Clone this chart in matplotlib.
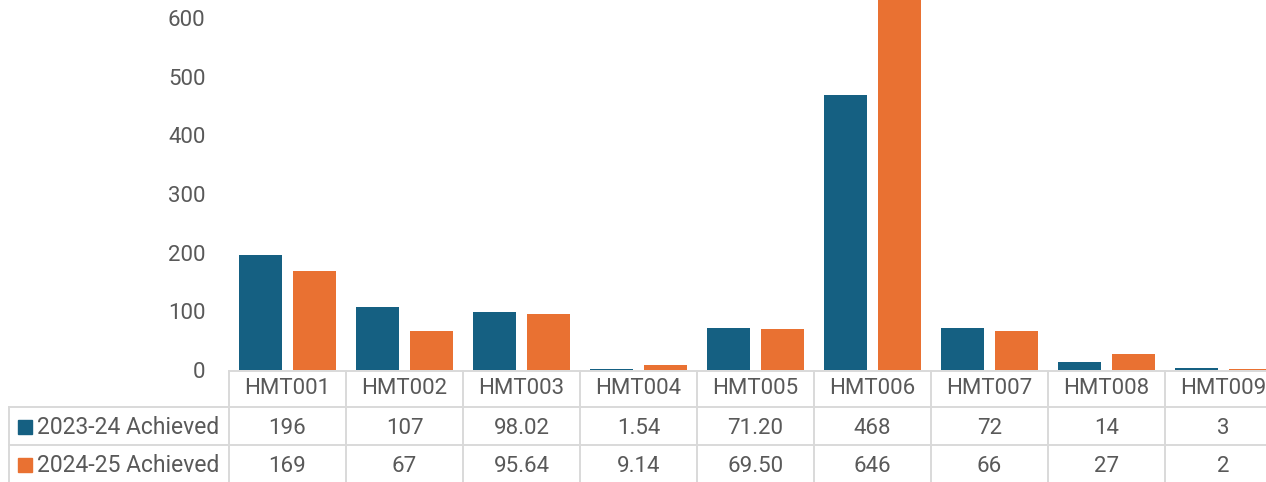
import matplotlib.pyplot as plt
from matplotlib.patches import Rectangle

plt.rcParams['font.family'] = ['Roboto', 'DejaVu Sans']

categories = ["HMT001", "HMT002", "HMT003", "HMT004", "HMT005",
              "HMT006", "HMT007", "HMT008", "HMT009"]
series_names = ["2023-24 Achieved", "2024-25 Achieved"]
# values as shown in the data table (strings keep the source formatting)
achieved_2324 = ["196", "107", "98.02", "1.54", "71.20", "468", "72", "14", "3"]
achieved_2425 = ["169", "67", "95.64", "9.14", "69.50", "646", "66", "27", "2"]
y_ticks = [0, 100, 200, 300, 400, 500, 600]

colors = ["#156082", "#E97132"]
text_color = "#595959"
grid_color = "#D9D9D9"
fs = 16

W, H = 1266, 482
fig = plt.figure(figsize=(W / 100, H / 100), dpi=100)

# pixel layout of the reference
plot_left, plot_right = 229, 1282
zero_y = 370
axis_y = 371
px_per_unit = (370 - 18) / 600.0

ax = fig.add_axes([plot_left / W, (H - zero_y) / H,
                   (plot_right - plot_left) / W, zero_y / H])
x = list(range(len(categories)))
bw = 0.37
off = 0.23
for k, vals in enumerate([achieved_2324, achieved_2425]):
    ax.bar([i + (k * 2 - 1) * off for i in x], [float(v) for v in vals],
           width=bw, color=colors[k], zorder=2)
ax.set_xlim(-0.5, len(categories) - 0.5)
ax.set_ylim(0, zero_y / px_per_unit)
ax.set_yticks(y_ticks)
ax.set_xticks([])
ax.tick_params(axis='y', length=0, pad=17, labelsize=fs, labelcolor=text_color)
for s in ax.spines.values():
    s.set_visible(False)

# data table below the axis
cell_w = (plot_right - plot_left) / len(categories)
label_w = (plot_left - 9) / cell_w
tax = fig.add_axes([9 / W, 0, (plot_right - 9) / W, (H - axis_y) / H])
tax.set_xlim(-0.5 - label_w, len(categories) - 0.5)
tax.set_ylim(H, axis_y)
tax.axis('off')

row_lines = [406.5, 444.5]
lw = 1.4
tax.plot([-0.5, len(categories) - 0.5], [axis_y, axis_y], color=grid_color, lw=lw, clip_on=False)
for i in range(len(categories) + 1):
    tax.plot([i - 0.5, i - 0.5], [axis_y, H], color=grid_color, lw=lw, clip_on=False)
for yl in row_lines:
    tax.plot([-0.5 - label_w, len(categories) - 0.5], [yl, yl], color=grid_color, lw=lw, clip_on=False)
tax.plot([-0.5 - label_w, -0.5 - label_w], [row_lines[0], H], color=grid_color, lw=lw, clip_on=False)

header_base = 394.5
row_base = [433.5, 471.5]
for i, c in enumerate(categories):
    tax.text(i, header_base, c, ha='center', va='baseline', fontsize=fs, color=text_color)
for r, vals in enumerate([achieved_2324, achieved_2425]):
    for i, v in enumerate(vals):
        tax.text(i, row_base[r], v, ha='center', va='baseline', fontsize=fs, color=text_color)
    fig.add_artist(Rectangle((18 / W, (H - row_base[r]) / H), 14 / W, 14 / H,
                             transform=fig.transFigure, color=colors[r]))
    fig.text(37 / W, (H - row_base[r]) / H, series_names[r], ha='left', va='baseline',
             fontsize=16.5, color=text_color)

plt.savefig("out.png", dpi=100)
